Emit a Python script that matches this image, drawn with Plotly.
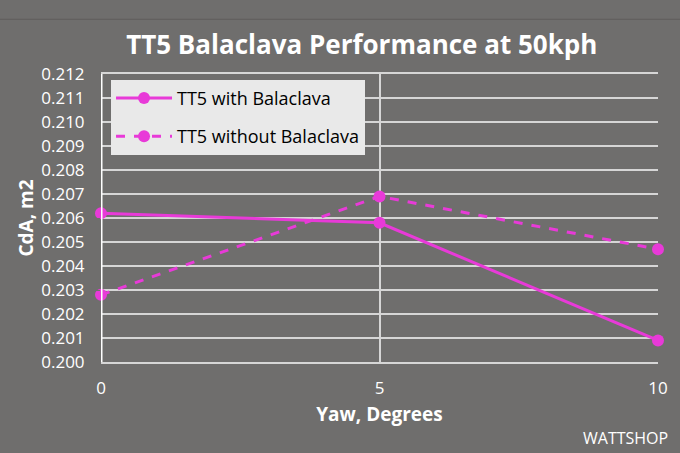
import plotly.graph_objects as go

# Yaw angle (degrees) and CdA (m2)
yaw = [0, 5, 10]
cda_with = [0.2062, 0.2058, 0.2009]
cda_without = [0.2028, 0.2069, 0.2047]
y_ticks = [0.200, 0.201, 0.202, 0.203, 0.204, 0.205, 0.206,
           0.207, 0.208, 0.209, 0.210, 0.211, 0.212]

pink = '#e83ad8'
bg = '#6f6e6d'
font = 'Open Sans, sans-serif'

fig = go.Figure()

fig.add_trace(go.Scatter(x=yaw, y=cda_with,
                         name='TT5 with Balaclava',
                         legendgroup='with',
                         mode='lines+markers',
                         line=dict(color=pink, width=3),
                         marker=dict(size=12, color=pink),
                         cliponaxis=False))

fig.add_trace(go.Scatter(x=yaw, y=cda_without,
                         name='TT5 without Balaclava',
                         legendgroup='without',
                         mode='lines+markers',
                         line=dict(color=pink, width=3, dash='dash'),
                         marker=dict(size=12, color=pink),
                         cliponaxis=False))

fig.update_layout(width=680, height=453,
                  paper_bgcolor=bg,
                  plot_bgcolor=bg,
                  margin=dict(l=101, r=22, t=74, b=91),
                  font=dict(family=font, color='white', size=16),
                  title=dict(text='<b>TT5 Balaclava Performance at 50kph</b>',
                             x=0.532, xanchor='center',
                             y=0.9, yanchor='middle',
                             font=dict(size=26, color='white')),
                  legend=dict(x=0.018, y=0.98, xanchor='left', yanchor='top',
                              bgcolor='#e9e9e9',
                              font=dict(color='black', size=18),
                              itemwidth=56,
                              tracegroupgap=12,
                              borderwidth=0))

fig.update_xaxes(range=[0, 10],
                 tickvals=yaw,
                 showgrid=True, gridcolor='#d6d6d6', gridwidth=1.5,
                 zeroline=False,
                 showline=True, linecolor='#d6d6d6', linewidth=1.5, mirror=True,
                 ticks='outside', ticklen=10, tickcolor=bg,
                 tickfont=dict(size=17, color='white'),
                 title=dict(text='<b>Yaw, Degrees</b>', font=dict(size=19, color='white'),
                            standoff=10))

fig.update_yaxes(range=[0.200, 0.212],
                 tickvals=y_ticks,
                 tickformat='.3f',
                 showgrid=True, gridcolor='#d6d6d6', gridwidth=1.5,
                 zeroline=False,
                 showline=False,
                 ticks='outside', ticklen=12, tickcolor=bg,
                 tickfont=dict(size=17, color='white'),
                 title=dict(text='<b>CdA, m2</b>', font=dict(size=19, color='white'),
                            standoff=2))

# thick white left axis
fig.add_shape(type='line', xref='x', yref='paper', x0=0, x1=0, y0=0, y1=1,
              line=dict(color='white', width=3), layer='above')

# thin dark rule at the top
fig.add_shape(type='line', xref='paper', yref='paper', x0=-0.19, x1=1.04,
              y0=1.19, y1=1.19, line=dict(color='#5e5d5c', width=1))

fig.add_annotation(text='WATTSHOP', xref='paper', yref='paper',
                   x=1.0215, y=-0.265, xanchor='right', yanchor='middle',
                   showarrow=False, font=dict(size=16, color='white'))

fig.write_html("out.html", config={'displayModeBar': False},
               post_script="document.body.style.margin='0';")
